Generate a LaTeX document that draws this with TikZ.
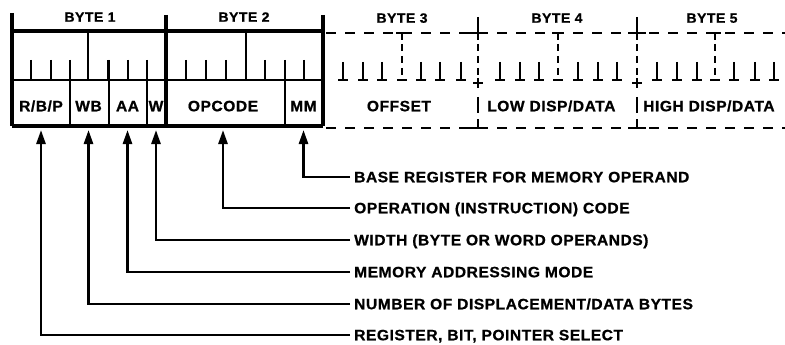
\documentclass[tikz,border=0pt]{standalone}
\usepackage{fontspec}
\setmainfont{Liberation Sans}[FakeStretch=1.04, LetterSpace=3.5, BoldFeatures={FakeBold=0.8}]
\usetikzlibrary{arrows.meta}
\begin{document}
\begin{tikzpicture}[x=1pt,y=-1pt,
  boxline/.style={line width=3.2pt},
  tickline/.style={line width=2.2pt},
  dshline/.style={line width=2.2pt, dash pattern=on 10pt off 9pt},
  dshv/.style={line width=1.8pt, dash pattern=on 7pt off 5pt},
  arr/.style={line width=2.6pt, -{Triangle[length=14pt,width=9pt]}, shorten <=4pt},
  txt/.style={font=\bfseries\fontsize{15}{15}\selectfont, inner sep=0pt, text height=10.5pt, text depth=0pt},
  hdr/.style={font=\bfseries\fontsize{13.5}{13.5}\selectfont, inner sep=0pt, text height=9.5pt, text depth=0pt},
  lab/.style={txt, anchor=west}]
\useasboundingbox (0,0) rectangle (785,345);
% ---- solid part (bytes 1 and 2)
\draw[boxline] (12,13) -- (12,126);
\draw[boxline] (166,15) -- (166,126);
\draw[boxline] (323,15) -- (323,126);
\draw[boxline] (12,31) -- (323,31);
\draw[boxline] (12,126) -- (323,126);
\draw[tickline] (12,80) -- (323,80);
\draw[tickline] (88,31) -- (88,80);
\draw[tickline] (246,31) -- (246,80);
\foreach \x in {31,51,108,128,186,206,226,265,304} \draw[tickline] (\x,60) -- (\x,80);
\foreach \x in {70,109,147,285} \draw[tickline] (\x,60) -- (\x,126);
% ---- dashed part (bytes 3 to 5)
\draw[dshline] (326,33) -- (785,33);
\draw[dshline] (326,128) -- (785,128);
\foreach \x in {343,363,382,421,440,461,500,520,539,578,598,617,657,677,697,734,755,774}{
  \draw[tickline] (\x,62) -- (\x,80);
  \draw[tickline] (\x-5,80) -- (\x+5,80);
}
\foreach \x in {402,558,715}{
  \draw[tickline] (\x-6,33) -- (\x+6,33);
  \draw[tickline] (\x,33) -- (\x,40);
  \draw[dshv] (\x,44) -- (\x,80);
  \draw[tickline] (\x-5,80) -- (\x+5,80);
}
\foreach \x in {478,637}{
  \draw[tickline] (\x,17) -- (\x,40);
  \draw[tickline] (\x-9,33) -- (\x+9,33);
  \draw[dshv] (\x,44) -- (\x,80);
  \draw[tickline] (\x,78) -- (\x,88);
  \draw[tickline] (\x-5,83) -- (\x+5,83);
  \draw[tickline] (\x,97) -- (\x,113);
  \draw[tickline] (\x,119) -- (\x,128);
  \draw[tickline] (\x-9,128) -- (\x+9,128);
}
% ---- headers
\node[hdr] (h1) at (90,17) {BYTE 1};
\node[hdr] (h2) at (244,17) {BYTE 2};
\node[hdr] (h3) at (402,18) {BYTE 3};
\node[hdr] (h4) at (557,18) {BYTE 4};
\node[hdr] (h5) at (712,18) {BYTE 5};
% ---- fields
\node[txt] (rbp) at (41,106) {R/B/P};
\node[txt] (wb) at (88.5,106) {WB};
\node[txt] (aa) at (127.5,106) {AA};
\node[txt] (w) at (156,106) {W};
\node[txt] (op) at (223,106) {OPCODE};
\node[txt] (mm) at (303.5,106) {MM};
\node[txt] (off) at (399,106) {OFFSET};
\node[lab] (low) at (487,106) {LOW DISP/DATA};
\node[lab] (high) at (643,106) {HIGH DISP/DATA};
% ---- labels
\node[lab] (l1) at (354,177) {BASE REGISTER FOR MEMORY OPERAND};
\node[lab] (l2) at (354,208) {OPERATION (INSTRUCTION) CODE};
\node[lab] (l3) at (354,240) {WIDTH (BYTE OR WORD OPERANDS)};
\node[lab] (l4) at (354,272) {MEMORY ADDRESSING MODE};
\node[lab] (l5) at (354,304) {NUMBER OF DISPLACEMENT/DATA BYTES};
\node[lab] (l6) at (354,335) {REGISTER, BIT, POINTER SELECT};
% ---- arrows
\coordinate (base) at (0,130);
\draw[arr] (l1.west) -| (mm |- base);
\draw[arr] (l2.west) -| (op |- base);
\draw[arr] (l3.west) -| (w |- base);
\draw[arr] (l4.west) -| (aa |- base);
\draw[arr] (l5.west) -| (wb |- base);
\draw[arr] (l6.west) -| (rbp |- base);
\end{tikzpicture}
\end{document}
